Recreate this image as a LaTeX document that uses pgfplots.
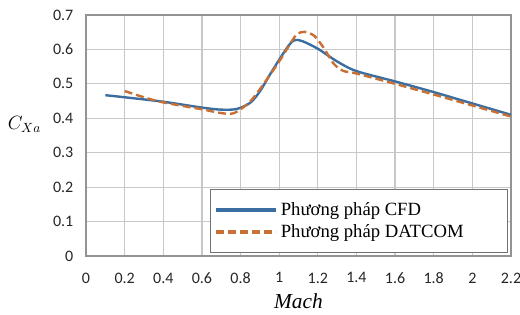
\documentclass[border=0pt]{standalone}
\usepackage{fontspec}
\setmainfont{Liberation Serif}
\newfontfamily\carlito{Carlito}
\usepackage{pgfplots}
\pgfplotsset{compat=1.18}
\definecolor{cfdblue}{RGB}{58,110,160}
\definecolor{datorange}{RGB}{200,112,52}
\definecolor{gridgray}{RGB}{200,200,200}
\begin{document}
\begin{tikzpicture}
\begin{axis}[
  scale only axis,
  width=318.75pt, height=180.75pt,
  xmin=0, xmax=2.2, ymin=0, ymax=0.7,
  xtick={0,0.2,...,2.21}, ytick={0,0.1,...,0.71},
  xticklabels={0,0.2,0.4,0.6,0.8,1,1.2,1.4,1.6,1.8,2,2.2},
  yticklabels={0,0.1,0.2,0.3,0.4,0.5,0.6,0.7},
  grid=major,
  major grid style={gridgray, line width=0.9pt},
  axis line style={draw=gray!85, line width=1pt},
  major tick length=0pt,
  /pgf/number format/assume math mode=true,
  tick label style={font=\carlito\fontsize{12}{14}\selectfont, black!85},
  xticklabel style={yshift=-9pt},
  yticklabel style={xshift=-6pt},
  xlabel={\textit{Mach}},
  xlabel style={font=\fontsize{16}{18}\selectfont, at={(rel axis cs:0.5,-0.187)}, anchor=center},
  ylabel={$C_{Xa}$},
  ylabel style={rotate=-90, font=\fontsize{14}{16}\selectfont, at={(rel axis cs:-0.145,0.545)}, anchor=center},
  legend cell align=left,
  legend style={at={(rel axis cs:0.993,0.012)}, anchor=south east,
    draw=gray!90!black, line width=0.8pt, font=\fontsize{14}{16}\selectfont,
    inner xsep=3pt, inner ysep=8pt, row sep=1pt},
  legend image code/.code={\draw[#1, line width=3pt] (0pt,0pt) -- (45pt,0pt);},
]
\addplot[cfdblue, line width=1.8pt, smooth, tension=0.5] coordinates {
(0.1,0.467) (0.2,0.461) (0.4,0.448) (0.6,0.431) (0.7,0.425) (0.78,0.427)
(0.85,0.445) (0.9,0.478) (0.95,0.525) (1.0,0.57) (1.05,0.612) (1.08,0.627)
(1.12,0.624) (1.2,0.602) (1.3,0.565) (1.4,0.537) (1.6,0.507) (1.8,0.476)
(2.0,0.443) (2.2,0.41)};
\addlegendentry{\makebox[165pt][l]{Phương pháp CFD}}
\addplot[datorange, line width=1.8pt, dash pattern=on 6pt off 3pt, smooth, tension=0.5] coordinates {
(0.2,0.479) (0.3,0.461) (0.4,0.446) (0.6,0.426) (0.7,0.415) (0.76,0.414)
(0.81,0.43) (0.86,0.455) (0.92,0.5) (1.0,0.565) (1.05,0.61) (1.09,0.643)
(1.13,0.651) (1.18,0.64) (1.23,0.605) (1.28,0.56) (1.33,0.538) (1.4,0.53)
(1.6,0.5) (1.8,0.469) (2.0,0.437) (2.2,0.405)};
\addlegendentry{\makebox[165pt][l]{Phương pháp DATCOM}}
\coordinate (bl) at (rel axis cs:-0.2024,-0.2448);
\coordinate (tr) at (rel axis cs:1.0212,1.0622);
\end{axis}
\pgfresetboundingbox
\path[use as bounding box] (bl) rectangle (tr);
\end{tikzpicture}
\end{document}
